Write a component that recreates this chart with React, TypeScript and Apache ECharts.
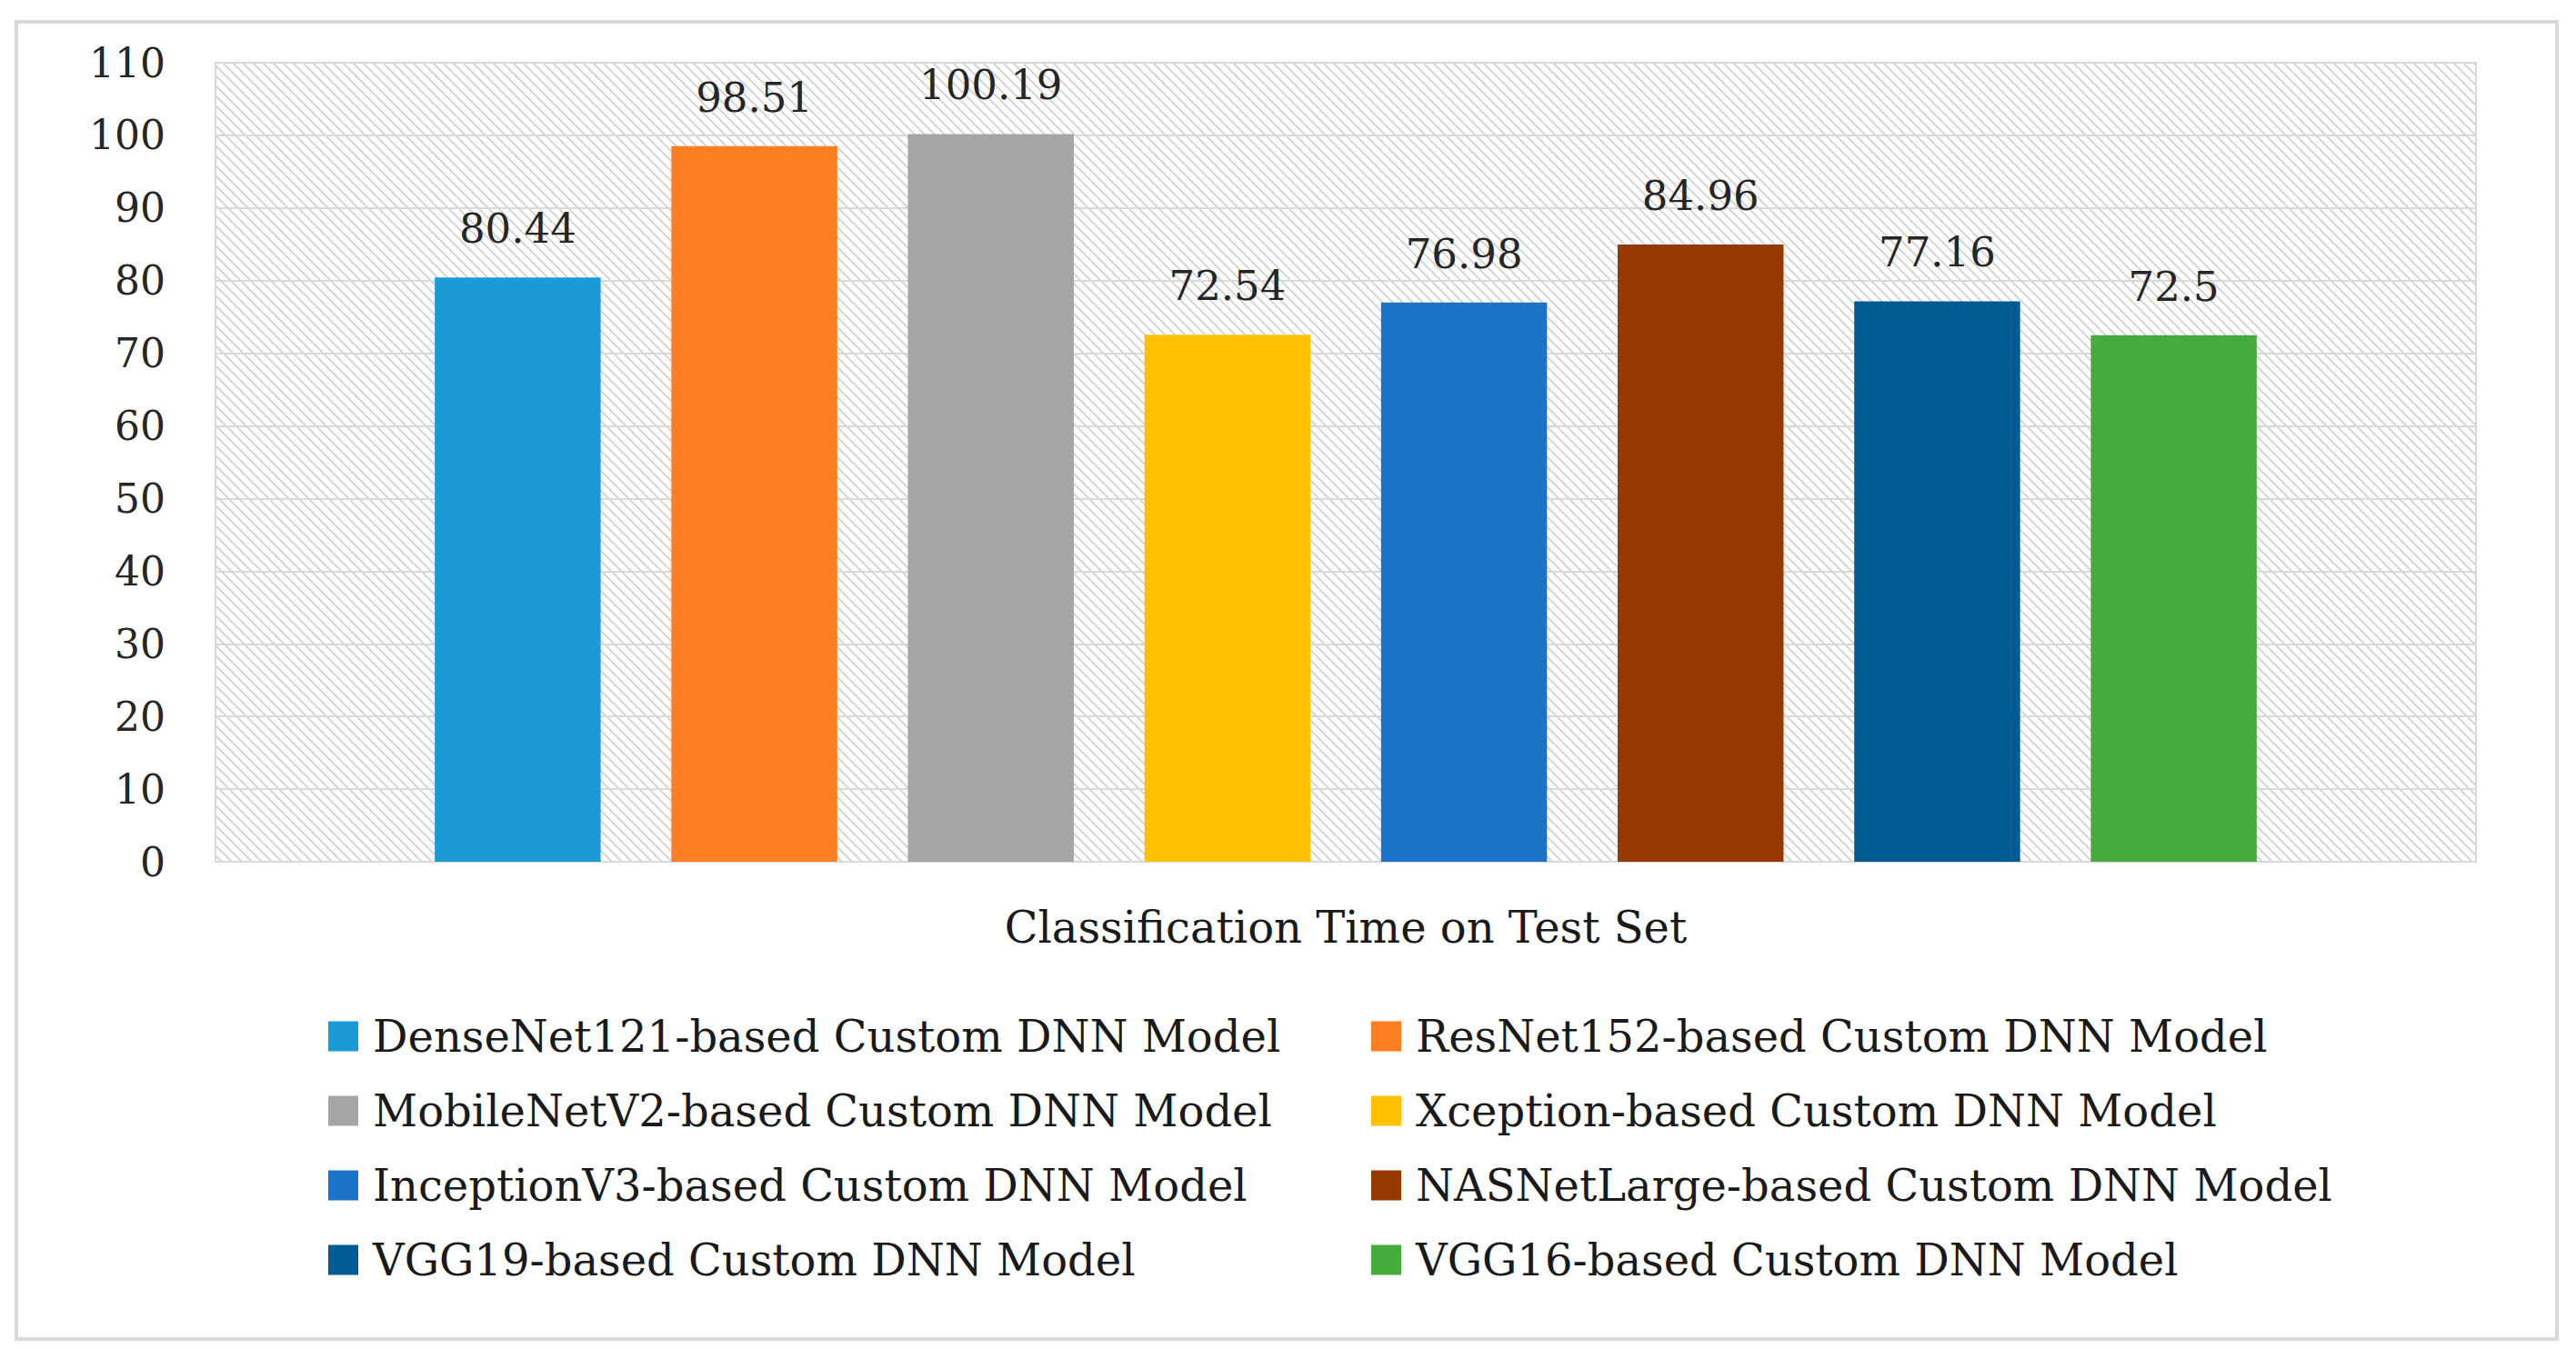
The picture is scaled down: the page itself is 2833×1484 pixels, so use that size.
import React, { useEffect, useRef } from "react";
import * as echarts from "echarts";

const categories = ["Classification Time on Test Set"];
const seriesNames = [
  "DenseNet121-based Custom DNN Model",
  "ResNet152-based Custom DNN Model",
  "MobileNetV2-based Custom DNN Model",
  "Xception-based Custom DNN Model",
  "InceptionV3-based Custom DNN Model",
  "NASNetLarge-based Custom DNN Model",
  "VGG19-based Custom DNN Model",
  "VGG16-based Custom DNN Model",
];
const seriesValues = [80.44, 98.51, 100.19, 72.54, 76.98, 84.96, 77.16, 72.5];
const seriesColors = [
  "#1a9bd7",
  "#fe7f22",
  "#a5a5a5",
  "#ffc000",
  "#1d72ca",
  "#963800",
  "#005b93",
  "#45ab3a",
];
const yTicks = { min: 0, max: 110, interval: 10 };

const FONT = "'Palatino Linotype', 'Book Antiqua', Palatino, 'DejaVu Serif', serif";

function makeHatch(): HTMLCanvasElement {
  const s = 11;
  const c = document.createElement("canvas");
  c.width = s;
  c.height = s;
  const ctx = c.getContext("2d")!;
  ctx.fillStyle = "#ffffff";
  ctx.fillRect(0, 0, s, s);
  ctx.strokeStyle = "#cfcfcf";
  ctx.lineWidth = 1.6;
  ctx.beginPath();
  ctx.moveTo(-1, -1);
  ctx.lineTo(s + 1, s + 1);
  ctx.moveTo(-1 - s, -1);
  ctx.lineTo(1, s + 1);
  ctx.moveTo(s - 1, -1);
  ctx.lineTo(2 * s + 1, s + 1);
  ctx.stroke();
  return c;
}

export default function App() {
  const ref = useRef<HTMLDivElement>(null);
  useEffect(() => {
    document.body.style.margin = "0";
    const chart = echarts.init(ref.current!, undefined, { renderer: "svg" });
    const hatch = makeHatch();
    const leftCol = seriesNames.filter((_, i) => i % 2 === 0);
    const rightCol = seriesNames.filter((_, i) => i % 2 === 1);
    const legendBase = {
      orient: "vertical",
      top: 1111,
      icon: "rect",
      itemWidth: 33,
      itemHeight: 33,
      itemGap: 34,
      selectedMode: false,
      textStyle: {
        fontFamily: FONT,
        fontSize: 48,
        lineHeight: 48,
        color: "#1a1a1a",
        padding: [0, 0, 0, 11],
      },
    };
    chart.setOption({
      animation: false,
      backgroundColor: "#ffffff",
      graphic: [
        {
          type: "rect",
          shape: { x: 18, y: 24, width: 2794, height: 1449 },
          style: { fill: "none", stroke: "#d9d9d9", lineWidth: 4 },
          z: -1,
        },
      ],
      grid: {
        left: 237,
        right: 110,
        top: 69,
        bottom: 536,
        show: true,
        backgroundColor: { image: hatch, repeat: "repeat" },
        borderColor: "#d9d9d9",
        borderWidth: 2,
      },
      legend: [
        { ...legendBase, left: 356, data: leftCol },
        { ...legendBase, left: 1503, data: rightCol },
      ],
      xAxis: {
        type: "category",
        data: categories,
        axisLine: { show: true, lineStyle: { color: "#d9d9d9", width: 2 } },
        axisTick: { show: false },
        axisLabel: {
          fontFamily: FONT,
          fontSize: 48,
          color: "#1a1a1a",
          margin: 48,
        },
      },
      yAxis: {
        type: "value",
        min: yTicks.min,
        max: yTicks.max,
        interval: yTicks.interval,
        axisLine: { show: false },
        axisTick: { show: false },
        splitLine: { lineStyle: { color: "#d9d9d9", width: 2 } },
        axisLabel: {
          fontFamily: FONT,
          fontSize: 44,
          color: "#262626",
          margin: 55,
        },
      },
      series: seriesNames.map((name, i) => ({
        name,
        type: "bar",
        data: [seriesValues[i]],
        barGap: "42.6%",
        barCategoryGap: "19.4%",
        itemStyle: { color: seriesColors[i] },
        label: {
          show: true,
          position: "top",
          distance: 31,
          fontFamily: FONT,
          fontSize: 45,
          color: "#262626",
        },
      })),
    });
    return () => chart.dispose();
  }, []);
  return (
    <div
      ref={ref}
      style={{ position: "fixed", left: 0, top: 0, width: 2833, height: 1484 }}
    />
  );
}
